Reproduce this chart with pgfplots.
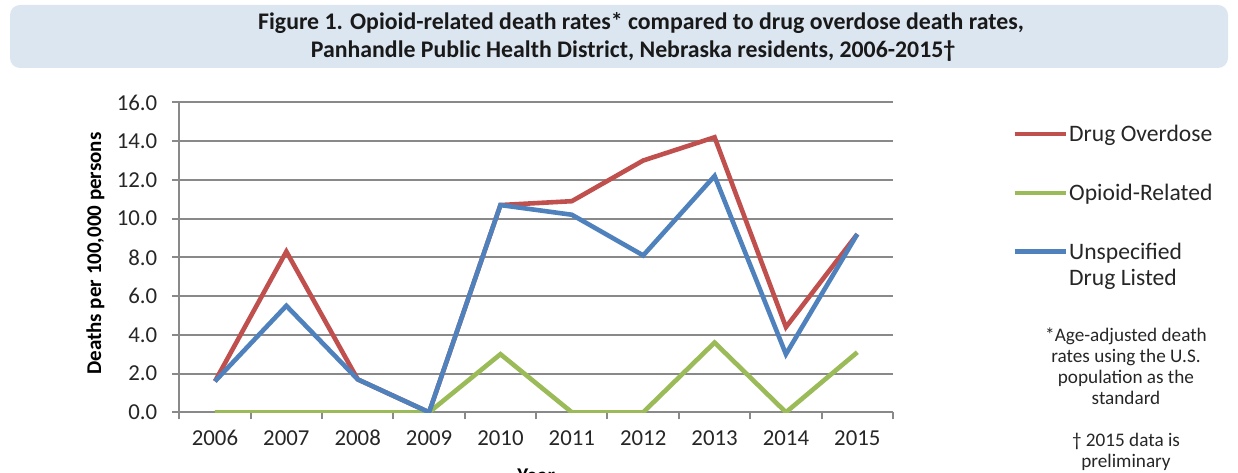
\documentclass[border=0pt]{standalone}
\usepackage{fontspec}
\setmainfont{Carlito}
\usepackage{pgfplots}
\pgfplotsset{compat=1.18}
\definecolor{odred}{HTML}{C0504D}
\definecolor{opgreen}{HTML}{9BBB59}
\definecolor{unblue}{HTML}{4F81BD}
\definecolor{gridgray}{HTML}{898989}
\definecolor{titlebg}{HTML}{DCE6F1}
\newcommand\lgd[1]{\begin{tabular}[t]{@{}l@{}}#1\end{tabular}}

\begin{document}
\begin{tikzpicture}
% page frame
\path[use as bounding box] (0,0) rectangle (619pt,236pt);

% title banner
\fill[titlebg, rounded corners=5pt] (5pt,202pt) rectangle (614pt,233.5pt);
\node[font=\fontsize{11.9}{13}\selectfont\bfseries, text=black!90] at (320.5pt,224.5pt)
  {Figure 1. Opioid-related death rates* compared to drug overdose death rates,};
\node[font=\fontsize{11.9}{13}\selectfont\bfseries, text=black!90] at (316.5pt,210.5pt)
  {Panhandle Public Health District, Nebraska residents, 2006-2015†};

\begin{axis}[
  at={(89.65pt,29.85pt)}, anchor=south west,
  scale only axis, width=356.85pt, height=154.95pt,
  xmin=2005.5, xmax=2015.5, ymin=0, ymax=16,
  axis x line*=bottom, axis y line*=left,
  axis line style={gridgray, line width=1pt, -},
  xtick={2005.5,2006.5,...,2015.5}, xticklabels={},
  extra x ticks={2006,2007,2008,2009,2010,2011,2012,2013,2014,2015},
  extra x tick labels={2006,2007,2008,2009,2010,2011,2012,2013,2014,2015},
  extra x tick style={major tick length=0pt, grid=none},
  ytick={0,2,...,16},
  /pgf/number format/assume math mode=true,
  tick align=outside, major tick length=3.5pt,
  tick style={gridgray, line width=1pt},
  ymajorgrids, grid style={gridgray, line width=1pt},
  ticklabel style={font=\fontsize{11.4}{13}\selectfont, text=black!85},
  xticklabel style={yshift=-5.5pt},
  yticklabel style={xshift=-4pt, /pgf/number format/fixed,
    /pgf/number format/fixed zerofill, /pgf/number format/precision=1},
  ylabel={Deaths per 100,000 persons},
  ylabel style={font=\fontsize{10.5}{12}\selectfont\bfseries,
    at={(axis description cs:-0.1177,0.512)}, anchor=center},
  xlabel={Year},
  xlabel style={font=\fontsize{10.5}{12}\selectfont\bfseries,
    at={(axis description cs:0.5,0)}, anchor=north, yshift=-24.8pt},
  legend style={at={(1.1667,0.937)}, anchor=north west, draw=none, fill=none,
    font=\fontsize{11.8}{13}\selectfont, text=black!85,
    row sep=17.6pt, inner sep=0pt, nodes={inner sep=0.6pt}},
  legend cell align=left,
  legend image code/.code={\draw[#1] (0pt,0pt) -- (25.5pt,0pt);},
  every axis plot/.append style={line width=2.3pt},
]
\addplot[odred] coordinates {
  (2006,1.6) (2007,8.3) (2008,1.7) (2009,0.0) (2010,10.7)
  (2011,10.9) (2012,13.0) (2013,14.2) (2014,4.4) (2015,9.2)};
\addlegendentry{\lgd{Drug Overdose}}
\addplot[opgreen] coordinates {
  (2006,0.0) (2007,0.0) (2008,0.0) (2009,0.0) (2010,3.0)
  (2011,0.0) (2012,0.0) (2013,3.6) (2014,0.0) (2015,3.1)};
\addlegendentry{\lgd{Opioid-Related}}
\addplot[unblue] coordinates {
  (2006,1.6) (2007,5.5) (2008,1.7) (2009,0.0) (2010,10.7)
  (2011,10.2) (2012,8.1) (2013,12.2) (2014,3.0) (2015,9.2)};
\addlegendentry{\lgd{Unspecified\\Drug Listed}}
\end{axis}

% footnotes
\node[anchor=north, align=center, font=\fontsize{9.6}{10.5}\selectfont, text=black!85] at (563pt,75.8pt)
  {*Age-adjusted death\\rates using the U.S.\\population as the\\standard};
\node[anchor=north, align=center, font=\fontsize{9.6}{10.5}\selectfont, text=black!85] at (563pt,22.8pt)
  {† 2015 data is\\preliminary};
\end{tikzpicture}
\end{document}
